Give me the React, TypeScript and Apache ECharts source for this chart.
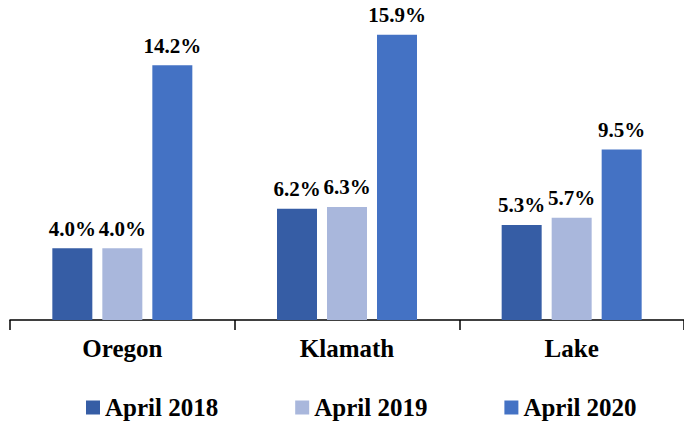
import React, { useEffect, useRef } from "react";
import * as echarts from "echarts";

const categories = ["Oregon", "Klamath", "Lake"];
const seriesNames = ["April 2018", "April 2019", "April 2020"];
const april2018 = [4.0, 6.2, 5.3];
const april2019 = [4.0, 6.3, 5.7];
const april2020 = [14.2, 15.9, 9.5];
const colors = ["#365DA5", "#A9B7DC", "#4472C4"];

const FONT = "'Liberation Serif', 'Times New Roman', serif";

export default function App() {
  const ref = useRef<HTMLDivElement>(null);
  useEffect(() => {
    if (!ref.current) return;
    const chart = echarts.init(ref.current, undefined, { renderer: "svg" });
    const values = [april2018, april2019, april2020];
    chart.setOption({
      animation: false,
      grid: { left: 10, right: -4, top: 33, bottom: 101 },
      legend: {
        data: seriesNames,
        left: 86,
        top: 395,
        padding: 0,
        icon: "rect",
        itemWidth: 14,
        itemHeight: 14,
        itemGap: 77,
        textStyle: {
          fontFamily: FONT,
          fontWeight: "bold",
          fontSize: 25,
          lineHeight: 24,
          color: "#000",
        },
      },
      xAxis: {
        type: "category",
        data: categories,
        axisLine: { lineStyle: { color: "#000", width: 1.5 } },
        axisTick: { show: true, length: 10, lineStyle: { color: "#000", width: 1.5 } },
        axisLabel: { fontFamily: FONT, fontWeight: "bold", fontSize: 25, color: "#000", margin: 16 },
      },
      yAxis: {
        type: "value",
        min: 0,
        max: 16,
        show: false,
        splitLine: { show: false },
      },
      series: values.map((v, i) => ({
        name: seriesNames[i],
        type: "bar",
        data: v,
        barWidth: 40,
        barGap: "25%",
        itemStyle: { color: colors[i] },
        label: {
          show: true,
          position: "top",
          distance: 9,
          formatter: (p: any) => p.value.toFixed(1) + "%",
          fontFamily: FONT,
          fontWeight: "bold",
          fontSize: 21,
          color: "#000",
        },
      })),
    });
    return () => chart.dispose();
  }, []);
  return <div ref={ref} style={{ width: 684, height: 421, position: "absolute", left: 0, top: 0 }} />;
}
